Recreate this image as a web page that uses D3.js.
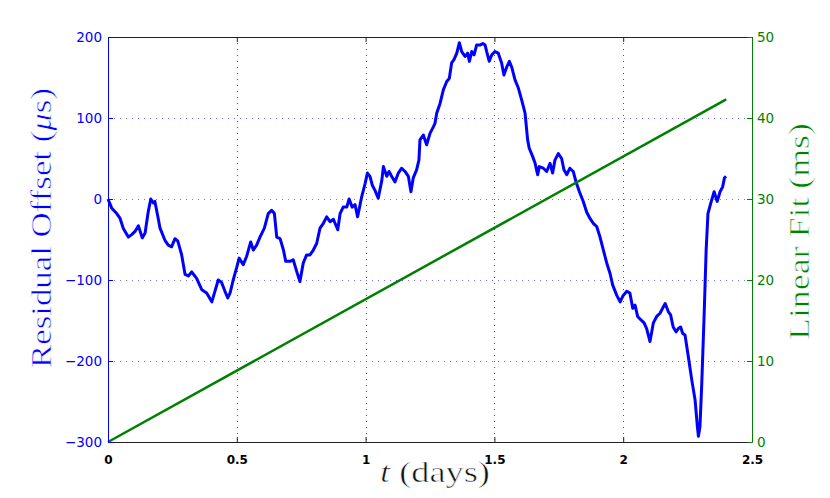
<!DOCTYPE html>
<html>
<head>
<meta charset="utf-8">
<script src="https://cdn.jsdelivr.net/npm/d3@7"></script>
<style>
  html, body { margin: 0; padding: 0; background: #fff; }
  svg { display: block; }
  .thin { stroke: #fff; stroke-width: 0.6px; paint-order: fill; }
</style>
</head>
<body>
<svg id="chart" width="830" height="498"></svg>
<script>
// ---- data ----
const tDays = [0,0.014,0.034,0.047,0.059,0.079,0.092,0.105,0.118,0.133,0.144,0.156,0.166,0.176,0.182,0.195,0.202,0.221,0.234,0.247,0.260,0.271,0.286,0.299,0.312,0.325,0.344,0.364,0.383,0.403,0.415,0.428,0.441,0.454,0.465,0.474,0.486,0.500,0.509,0.525,0.538,0.554,0.564,0.577,0.590,0.607,0.622,0.635,0.646,0.655,0.668,0.681,0.690,0.707,0.719,0.733,0.745,0.758,0.771,0.784,0.797,0.810,0.823,0.836,0.849,0.862,0.875,0.892,0.901,0.913,0.927,0.936,0.948,0.959,0.969,0.985,0.998,1.007,1.017,1.026,1.036,1.049,1.063,1.069,1.082,1.091,1.101,1.114,1.127,1.140,1.153,1.166,1.176,1.185,1.198,1.207,1.211,1.224,1.237,1.250,1.263,1.269,1.276,1.289,1.302,1.315,1.325,1.334,1.343,1.354,1.364,1.373,1.386,1.396,1.403,1.412,1.421,1.431,1.444,1.455,1.464,1.470,1.480,1.490,1.502,1.515,1.528,1.537,1.548,1.558,1.567,1.580,1.593,1.606,1.619,1.629,1.635,1.649,1.658,1.668,1.674,1.690,1.703,1.716,1.726,1.735,1.748,1.761,1.770,1.781,1.793,1.806,1.817,1.830,1.845,1.858,1.871,1.884,1.897,1.910,1.923,1.936,1.949,1.959,1.975,1.988,2.000,2.014,2.026,2.037,2.046,2.056,2.068,2.081,2.091,2.104,2.117,2.130,2.143,2.156,2.163,2.175,2.184,2.194,2.205,2.214,2.223,2.231,2.240,2.253,2.266,2.279,2.288,2.292,2.298,2.305,2.314,2.322,2.329,2.340,2.353,2.365,2.376,2.386,2.393,2.399];
const residualUs = [0,-11,-18,-24,-36,-47,-44,-40,-33,-48,-42,-16,0,-5,-3,-24,-36,-51,-57,-59,-49,-52,-69,-93,-95,-90,-98,-112,-116,-127,-114,-100,-103,-114,-122,-116,-100,-84,-73,-81,-71,-53,-63,-57,-47,-36,-18,-14,-18,-47,-49,-63,-77,-77,-75,-90,-102,-79,-69,-69,-63,-55,-36,-30,-22,-28,-25,-38,-18,-10,-10,0,-10,-7,-22,3,19,32,28,17,11,1,23,40,28,34,28,21,32,38,34,28,9,26,36,48,73,79,67,81,89,93,106,118,135,145,149,168,172,180,193,182,176,180,170,182,178,190,190,192,190,182,170,178,182,180,168,153,163,170,163,147,137,122,106,73,63,52,44,30,40,38,34,44,32,48,56,50,36,30,38,34,21,9,-3,-16,-24,-30,-34,-47,-63,-79,-92,-106,-119,-127,-119,-114,-116,-135,-131,-145,-149,-153,-160,-176,-153,-145,-141,-133,-129,-139,-143,-158,-164,-160,-158,-166,-168,-195,-223,-248,-281,-293,-281,-228,-145,-63,-18,-5,9,-3,9,15,26,28];
const fitT = [0, 2.4];
const fitMs = [0, 42.3];
const xTicks = [0, 0.5, 1, 1.5, 2, 2.5];
const xTickLabels = ["0", "0.5", "1", "1.5", "2", "2.5"];
const leftTicks = [-300, -200, -100, 0, 100, 200];
const rightTicks = [0, 10, 20, 30, 40, 50];

// ---- layout ----
const L = 108, R = 752, T = 37, B = 442;
const BLUE = "#0000ff", GREEN = "#008000";
const svg = d3.select("#chart");

const x = d3.scaleLinear().domain([0, 2.5]).range([L, R]);
const yL = d3.scaleLinear().domain([-300, 200]).range([B, T]);
const yR = d3.scaleLinear().domain([0, 50]).range([B, T]);

// grid
const grid = svg.append("g");
grid.selectAll("line.hg").data(leftTicks.filter(v => v > -300 && v < 200)).join("line")
  .attr("x1", L).attr("x2", R).attr("y1", d => yL(d) + 0.5).attr("y2", d => yL(d) + 0.5)
  .attr("stroke", "#6f6fff").attr("stroke-width", 1).attr("stroke-dasharray", "1,5");
grid.selectAll("line.vg").data(xTicks.filter(v => v > 0 && v < 2.5)).join("line")
  .attr("x1", d => Math.round(x(d)) + 0.5).attr("x2", d => Math.round(x(d)) + 0.5).attr("y1", T).attr("y2", B)
  .attr("stroke", "#555").attr("stroke-width", 1).attr("stroke-dasharray", "1,5");

// lines
const blueLine = d3.line().x((d, i) => x(tDays[i])).y(d => yL(d));
svg.append("path").datum(residualUs).attr("d", blueLine)
  .attr("fill", "none").attr("stroke", BLUE).attr("stroke-width", 3).attr("stroke-linejoin", "round");

const greenLine = d3.line().x((d, i) => x(fitT[i])).y(d => yR(d));
svg.append("path").datum(fitMs).attr("d", greenLine)
  .attr("fill", "none").attr("stroke", GREEN).attr("stroke-width", 2.5);

// axes
const tickFont = "'DejaVu Sans', Arial, sans-serif";
function styleAxis(g, color, size) {
  g.select(".domain").attr("stroke", color);
  g.selectAll(".tick line").attr("stroke", color);
  g.selectAll(".tick text").attr("fill", color).style("font-family", tickFont).style("font-size", size + "px");
}
const xAxis = svg.append("g").attr("transform", `translate(0,${B})`)
  .call(d3.axisBottom(x).tickValues(xTicks).tickFormat((d, i) => xTickLabels[i]).tickSizeInner(-5).tickSizeOuter(0).tickPadding(13));
styleAxis(xAxis, "#222", 12);
xAxis.selectAll(".tick text").style("font-weight", "bold").attr("fill", "#000");
const xTop = svg.append("g").attr("transform", `translate(0,${T})`)
  .call(d3.axisTop(x).tickValues(xTicks).tickFormat("").tickSizeInner(-5).tickSizeOuter(0));
styleAxis(xTop, "#222", 12);

const lAxis = svg.append("g").attr("transform", `translate(${L},0)`)
  .call(d3.axisLeft(yL).tickValues(leftTicks).tickFormat(d => d < 0 ? "\u2212" + Math.abs(d) : d).tickSizeInner(-5).tickSizeOuter(0).tickPadding(6));
styleAxis(lAxis, BLUE, 13.5);
const rAxis = svg.append("g").attr("transform", `translate(${R},0)`)
  .call(d3.axisRight(yR).tickValues(rightTicks).tickSizeInner(-5).tickSizeOuter(0).tickPadding(5));
styleAxis(rAxis, GREEN, 13.5);

// axis labels
const serif = "'Liberation Serif', 'DejaVu Serif', serif";
const lt = svg.append("text").attr("class", "thin").attr("transform", `translate(51,228) rotate(-90)`)
  .attr("text-anchor", "middle").attr("fill", BLUE).style("font-family", serif).style("font-size", "30px")
  .attr("textLength", 280).attr("lengthAdjust", "spacingAndGlyphs");
lt.append("tspan").text("Residual Offset (");
lt.append("tspan").style("font-style", "italic").text("\u03bc");
lt.append("tspan").text("s)");

svg.append("text").attr("class", "thin").attr("transform", `translate(809,231.5) rotate(-90)`)
  .attr("text-anchor", "middle").attr("fill", GREEN).style("font-family", serif).style("font-size", "30px")
  .attr("textLength", 217).attr("lengthAdjust", "spacingAndGlyphs")
  .text("Linear Fit (ms)");

const xt = svg.append("text").attr("class", "thin").attr("x", 435).attr("y", 482)
  .attr("text-anchor", "middle").attr("fill", "#111").style("font-family", serif).style("font-size", "30px")
  .attr("textLength", 110).attr("lengthAdjust", "spacingAndGlyphs");
xt.append("tspan").style("font-style", "italic").text("t");
xt.append("tspan").text(" (days)");
</script>
</body>
</html>
